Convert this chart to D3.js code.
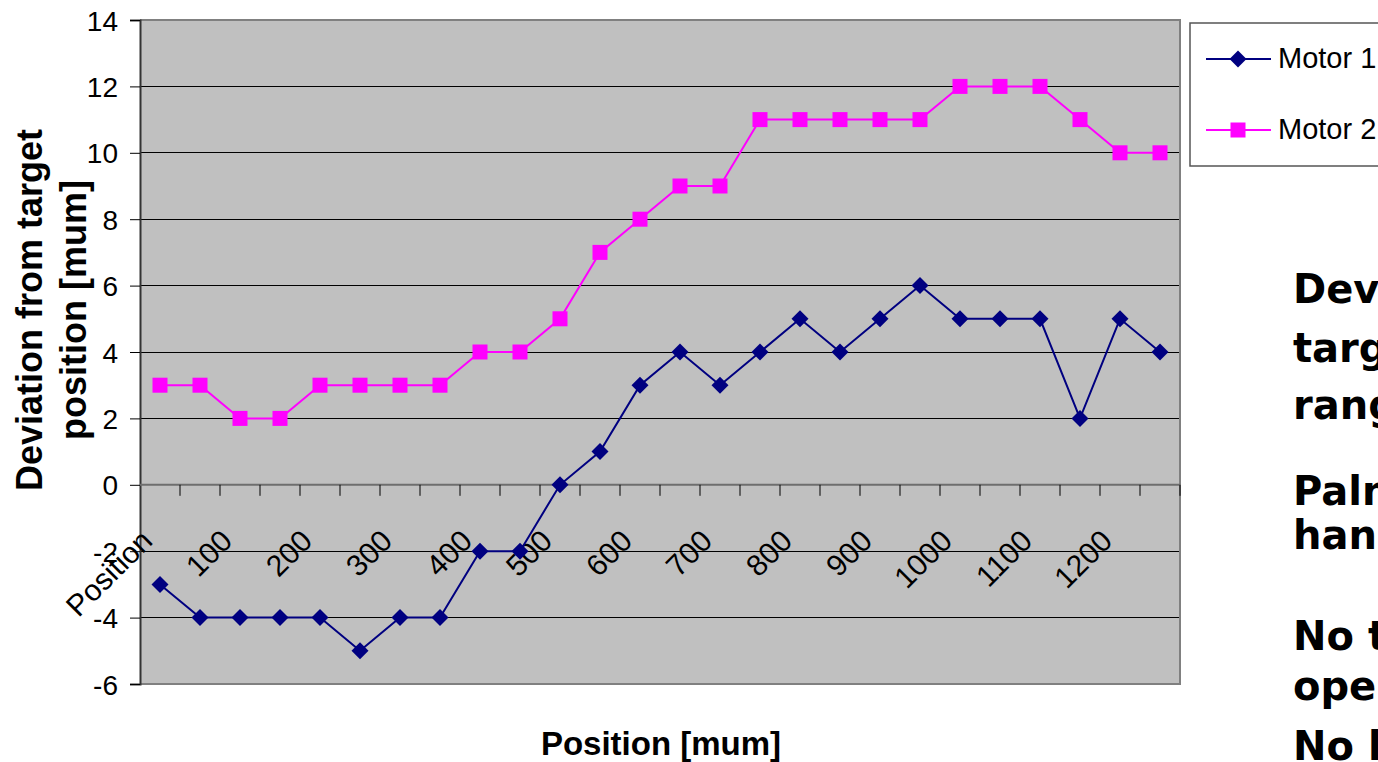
<!DOCTYPE html>
<html>
<head>
<meta charset="utf-8">
<script src="https://cdn.jsdelivr.net/npm/d3@7"></script>
<style>
  html, body { margin: 0; padding: 0; background: #ffffff; overflow: hidden; }
  svg { display: block; }
</style>
</head>
<body>
<script>
// ---- Data ----
const categories = ["Position", "50", "100", "150", "200", "250", "300", "350", "400", "450",
  "500", "550", "600", "650", "700", "750", "800", "850", "900", "950",
  "1000", "1050", "1100", "1150", "1200", "1250"];
const shownLabels = ["Position", "100", "200", "300", "400", "500", "600", "700", "800", "900", "1000", "1100", "1200"];
const motor1 = [-3, -4, -4, -4, -4, -5, -4, -4, -2, -2, 0, 1, 3, 4, 3, 4, 5, 4, 5, 6, 5, 5, 5, 2, 5, 4];
const motor2 = [3, 3, 2, 2, 3, 3, 3, 3, 4, 4, 5, 7, 8, 9, 9, 11, 11, 11, 11, 11, 12, 12, 12, 11, 10, 10];
const seriesNames = ["Motor 1", "Motor 2"];
const yTicks = [-6, -4, -2, 0, 2, 4, 6, 8, 10, 12, 14];
const sideText = ["Deviation from", "target within", "range", "Palm-sized", "handheld", "No tools for", "operation", "No lubricant"];

// ---- Layout ----
const W = 1378, H = 762;
const plot = { left: 140, right: 1180, top: 20, bottom: 684 };

const svg = d3.select("body").append("svg").attr("width", W).attr("height", H);
svg.append("rect").attr("width", W).attr("height", H).attr("fill", "#ffffff");

const x = d3.scalePoint().domain(categories).range([plot.left, plot.right]).padding(0.5);
const step = x.step();
const y = d3.scaleLinear().domain([-6, 14]).range([plot.bottom, plot.top]);

// plot background
svg.append("rect")
  .attr("x", plot.left).attr("y", plot.top)
  .attr("width", plot.right - plot.left).attr("height", plot.bottom - plot.top)
  .attr("fill", "#c0c0c0");

// gridlines
svg.append("g").selectAll("line").data(yTicks.filter(t => t !== 0 && t !== -6 && t !== 14)).join("line")
  .attr("x1", plot.left).attr("x2", plot.right)
  .attr("y1", d => y(d)).attr("y2", d => y(d))
  .attr("stroke", "#000").attr("stroke-width", 1).attr("shape-rendering", "crispEdges");

// plot border (top, right, bottom)
svg.append("path")
  .attr("d", `M${plot.left},${plot.top}H${plot.right}V${plot.bottom}H${plot.left}`)
  .attr("fill", "none").attr("stroke", "#808080").attr("stroke-width", 2);

// y axis
const yAxis = d3.axisLeft(y).tickValues(yTicks).tickSize(10).tickPadding(12)
  .tickFormat(d => d < 0 ? "-" + Math.abs(d) : String(d));
const gy = svg.append("g").attr("transform", `translate(${plot.left},0)`).call(yAxis);
gy.select(".domain").attr("stroke", "#333").attr("stroke-width", 2);
gy.selectAll(".tick line").attr("stroke", "#000").attr("stroke-width", 1);
gy.selectAll(".tick text").attr("font-family", "Liberation Sans, Arial, sans-serif")
  .attr("font-size", 28).attr("fill", "#000").attr("dy", "0.36em");

// x axis line at y=0 with ticks at category boundaries
const y0 = y(0);
svg.append("line")
  .attr("x1", plot.left).attr("x2", plot.right).attr("y1", y0).attr("y2", y0)
  .attr("stroke", "#6e6e6e").attr("stroke-width", 2);
const boundaries = categories.map((c) => x(c) + step / 2);
svg.append("g").selectAll("line").data(boundaries).join("line")
  .attr("x1", d => d).attr("x2", d => d)
  .attr("y1", y0).attr("y2", y0 + 11)
  .attr("stroke", "#000").attr("stroke-width", 1);

// category labels (rotated)
svg.append("g").selectAll("text").data(shownLabels).join("text")
  .attr("transform", d => `translate(${x(d) - 6},${y0 + 58}) rotate(-45)`)
  .attr("text-anchor", "end")
  .attr("font-family", "Liberation Sans, Arial, sans-serif")
  .attr("font-size", 30).attr("fill", "#000")
  .text(d => d);

// lines
const line = d3.line().x((d, i) => x(categories[i])).y(d => y(d));
svg.append("path").datum(motor2).attr("d", line)
  .attr("fill", "none").attr("stroke", "#ff00ff").attr("stroke-width", 2);
svg.append("path").datum(motor1).attr("d", line)
  .attr("fill", "none").attr("stroke", "#000080").attr("stroke-width", 2);

// markers
const diamond = d3.symbol().type(d3.symbolSquare).size(145);
svg.append("g").selectAll("path").data(motor1).join("path")
  .attr("d", diamond)
  .attr("transform", (d, i) => `translate(${x(categories[i])},${y(d)}) rotate(45)`)
  .attr("fill", "#000080");
svg.append("g").selectAll("rect").data(motor2).join("rect")
  .attr("x", (d, i) => x(categories[i]) - 7.5).attr("y", d => y(d) - 7.5)
  .attr("width", 15).attr("height", 15)
  .attr("fill", "#ff00ff");

// axis titles
svg.append("text")
  .attr("x", (plot.left + plot.right) / 2 + 1).attr("y", 755)
  .attr("text-anchor", "middle")
  .attr("font-family", "Liberation Sans, Arial, sans-serif")
  .attr("font-weight", "bold").attr("font-size", 33)
  .text("Position [mum]");

const yt = svg.append("text")
  .attr("transform", "translate(0,310) rotate(-90)")
  .attr("text-anchor", "middle")
  .attr("font-family", "Liberation Sans, Arial, sans-serif")
  .attr("font-weight", "bold").attr("font-size", 36);
yt.append("tspan").attr("x", 0).attr("y", 42).text("Deviation from target");
yt.append("tspan").attr("x", 0).attr("y", 86).text("position [mum]");

// legend
const lg = svg.append("g");
lg.append("rect").attr("x", 1190).attr("y", 23).attr("width", 260).attr("height", 143)
  .attr("fill", "#ffffff").attr("stroke", "#555").attr("stroke-width", 1.5);
const legendRows = [
  { name: seriesNames[0], color: "#000080", shape: "diamond", cy: 59 },
  { name: seriesNames[1], color: "#ff00ff", shape: "square", cy: 130 }
];
legendRows.forEach(r => {
  lg.append("line").attr("x1", 1206).attr("x2", 1271).attr("y1", r.cy).attr("y2", r.cy)
    .attr("stroke", r.color).attr("stroke-width", 2);
  if (r.shape === "diamond") {
    lg.append("path").attr("d", diamond)
      .attr("transform", `translate(1238,${r.cy}) rotate(45)`).attr("fill", r.color);
  } else {
    lg.append("rect").attr("x", 1230.5).attr("y", r.cy - 7.5).attr("width", 15).attr("height", 15)
      .attr("fill", r.color);
  }
  lg.append("text").attr("x", 1278).attr("y", r.cy + 9)
    .attr("font-family", "Liberation Sans, Arial, sans-serif")
    .attr("font-size", 29).attr("fill", "#000").text(r.name);
});

// side text (slide bullet text, clipped by the window)
const sideY = [303, 362, 419, 505, 549, 650, 700, 760];
svg.append("g").selectAll("text").data(sideText).join("text")
  .attr("x", 1293).attr("y", (d, i) => sideY[i])
  .attr("font-family", "'Comic Sans MS', 'DejaVu Sans', sans-serif")
  .attr("font-weight", "bold").attr("font-size", 40).attr("fill", "#000")
  .text(d => d);
</script>
</body>
</html>
